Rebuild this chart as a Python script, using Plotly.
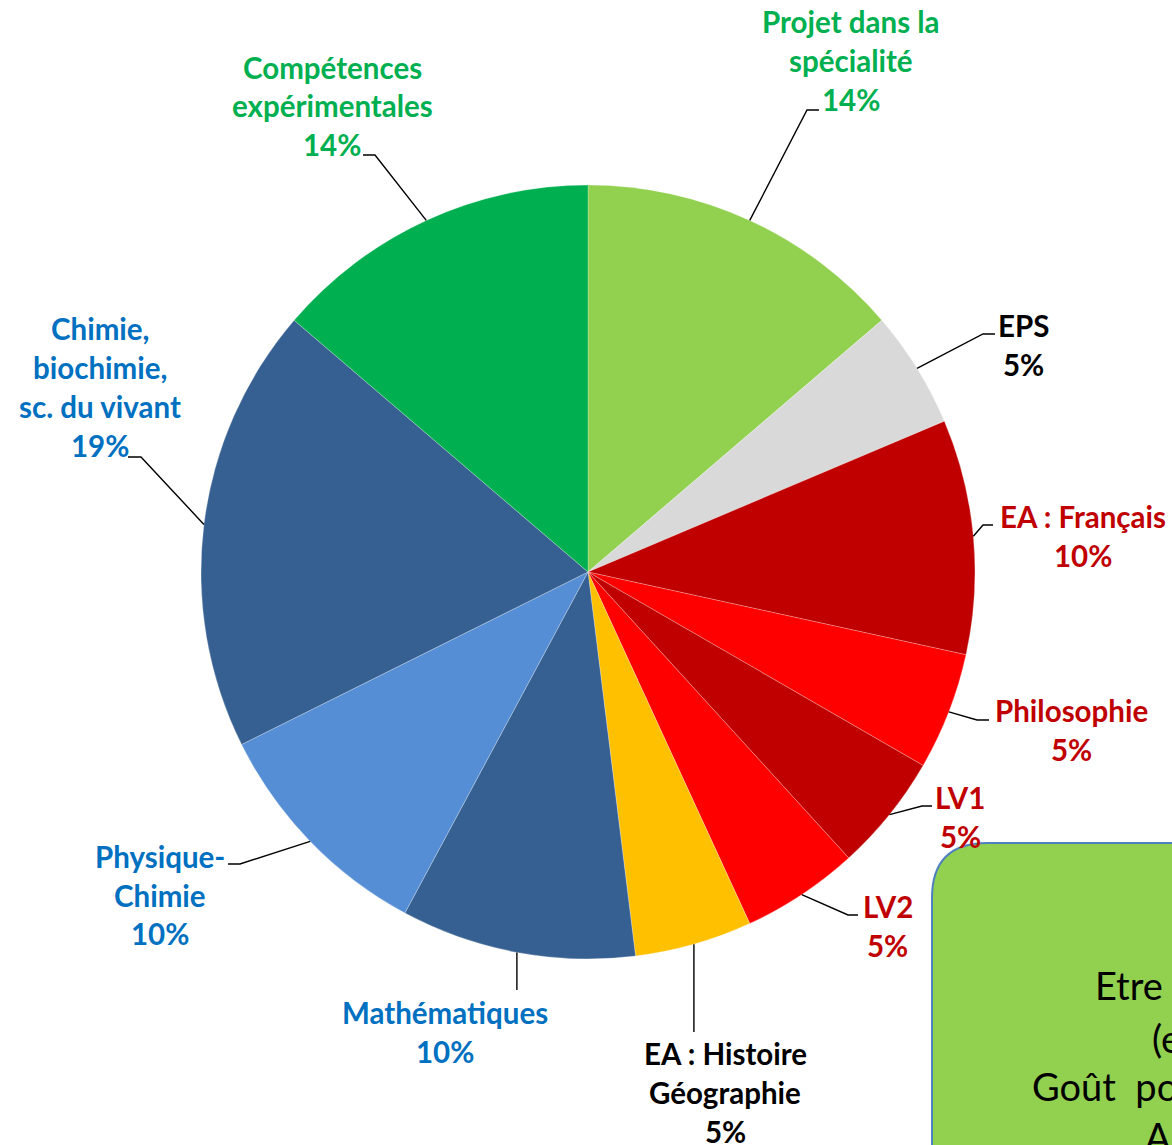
import math
import plotly.graph_objects as go

# ---------------- data ----------------
labels = ["Projet dans la\nspécialité", "EPS", "EA : Français", "Philosophie", "LV1", "LV2",
          "EA : Histoire\nGéographie", "Mathématiques", "Physique-\nChimie",
          "Chimie,\nbiochimie,\nsc. du vivant", "Compétences\nexpérimentales"]
values = [14, 5, 10, 5, 5, 5, 5, 10, 10, 19, 14]
pct_text = ["14%", "5%", "10%", "5%", "5%", "5%", "5%", "10%", "10%", "19%", "14%"]

# ---------------- styles ----------------
slice_colors = ["#92D050", "#D9D9D9", "#C00000", "#FF0000", "#C00000", "#FF0000",
                "#FFC000", "#376092", "#558ED5", "#376092", "#00B050"]
text_colors = ["#00B050", "#000000", "#C00000", "#C00000", "#C00000", "#C00000",
               "#000000", "#0070C0", "#0070C0", "#0070C0", "#00B050"]

W, H = 1172, 1145
CX, CY, R = 588, 572, 387          # pie centre / radius in pixels (layout)
LINE_H = 39                        # label line spacing
FONT = "Lato"
FSIZE = 29.5

# label placement (pixels): centre x, first line y
label_pos = [(851, 22), (1023, 326), (1083, 516), (1071, 710), (960, 797), (888, 906),
             (725, 1053), (445, 1012), (160, 856), (100, 328), (332, 67)]
# leader line elbow point and end point (pixels); None x -> vertical from slice edge
leader = [((807, 110), (819, 110)), ((983, 334), (995, 334)), ((983, 525), (993, 525)),
          ((977, 720), (989, 720)), ((922, 806), (932, 806)), ((848, 915), (858, 915)),
          ((None, 1032), (None, 1032)), ((None, 990), (None, 990)), ((240, 864), (228, 864)),
          ((141, 457), (128, 457)), ((375, 155), (363, 155))]


def px(x):
    return x / W


def py(y):
    return 1 - y / H


fig = go.Figure()
fig.add_trace(go.Pie(
    labels=[l.replace("\n", " ") for l in labels],
    values=values,
    sort=False,
    direction="clockwise",
    rotation=0,
    marker=dict(colors=slice_colors, line=dict(color="rgba(255,255,255,0.5)", width=0.5)),
    textinfo="none",
    hoverinfo="label+value",
    showlegend=False,
    domain=dict(x=[px(CX - R), px(CX + R)], y=[py(CY + R), py(CY - R)]),
))

# leader lines from slice mid-angles
total = sum(values)
cum = 0.0
shapes = []
annotations = []
for i, v in enumerate(values):
    mid = (cum + v / 2) / total * 2 * math.pi
    cum += v
    ex = CX + R * math.sin(mid)
    ey = CY - R * math.cos(mid)
    (bx, by), (tx, ty) = leader[i]
    if bx is None:
        bx = ex
    if tx is None:
        tx = ex
    path = f"M {px(ex)} {py(ey)} L {px(bx)} {py(by)} L {px(tx)} {py(ty)}"
    shapes.append(dict(type="path", xref="paper", yref="paper", path=path,
                       line=dict(color="#000000", width=1.4)))
    lines = labels[i].split("\n") + [pct_text[i]]
    lx, ly = label_pos[i]
    for k, t in enumerate(lines):
        annotations.append(dict(
            x=px(lx), y=py(ly + k * LINE_H), xref="paper", yref="paper",
            text=t, showarrow=False, xanchor="center", yanchor="middle",
            font=dict(family=FONT, size=FSIZE, color=text_colors[i], weight="bold"),
        ))

# green rounded text box (cut by the page edge)
bx0, by0, rad = 932, 843, 55
bx1, by1 = W + 60, H + 60
box_path = (f"M {px(bx0)} {py(by1)} L {px(bx0)} {py(by0 + rad)} "
            f"Q {px(bx0)} {py(by0)} {px(bx0 + rad)} {py(by0)} "
            f"L {px(bx1)} {py(by0)} L {px(bx1)} {py(by1)} Z")
shapes.append(dict(type="path", xref="paper", yref="paper", path=box_path,
                   fillcolor="#92D050", line=dict(color="#4F81BD", width=2)))

box_texts = ["Etre", "(e", "Goût  po", "A"]
box_pos = [(1093, 985), (1150, 1038), (1030, 1086), (1143, 1136)]
for t, (x, y) in zip(box_texts, box_pos):
    annotations.append(dict(
        x=px(x), y=py(y), xref="paper", yref="paper", text=t, showarrow=False,
        xanchor="left", yanchor="middle",
        font=dict(family=FONT, size=38, color="#000000"),
    ))

fig.update_layout(
    width=W, height=H,
    margin=dict(l=0, r=0, t=0, b=0),
    paper_bgcolor="#FFFFFF", plot_bgcolor="#FFFFFF",
    shapes=shapes, annotations=annotations,
)

fig.write_html("out.html", config={"displayModeBar": False},
               post_script="document.body.style.margin='0';document.body.style.overflow='hidden';")
